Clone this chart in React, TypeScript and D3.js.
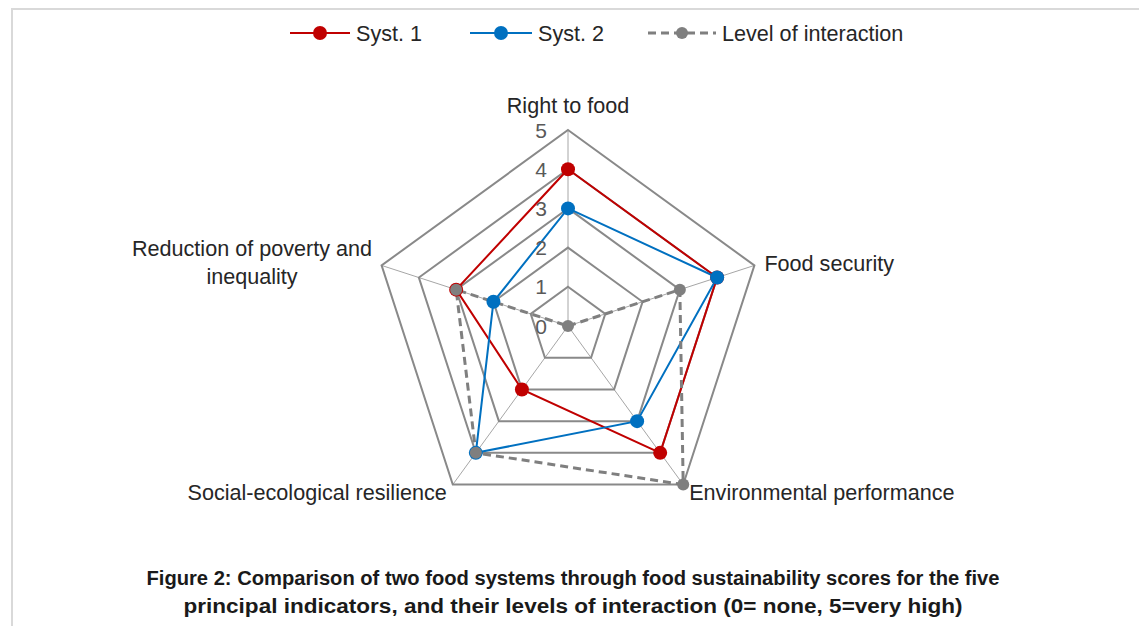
import React, { useRef, useEffect } from 'react';
import * as d3 from 'd3';

// axes of the radar, clockwise from the top
const indicators = [
  'Right to food',
  'Food security',
  'Environmental performance',
  'Social-ecological resilience',
  'Reduction of poverty and inequality',
];
const syst1 = [4, 4, 4, 2, 3];
const syst2 = [3, 4, 3, 4, 2];
const interaction = [0, 3, 5, 4, 3];
const levels = [0, 1, 2, 3, 4, 5];

const titleLines = [
  'Figure 2: Comparison of two food systems through food sustainability scores for the five',
  'principal indicators, and their levels of interaction (0= none, 5=very high)',
];

const W = 1139;
const H = 626;
const FONT = '"Liberation Sans", Arial, sans-serif';
const FS = 21.6;

export default function App() {
  const svgRef = useRef<SVGSVGElement>(null);

  useEffect(() => {
    if (!svgRef.current) return;
    const svg = d3.select(svgRef.current);
    svg.selectAll('*').remove();

    const cx = 568, cy = 326;
    const r = d3.scaleLinear().domain([0, 5]).range([0, 196]);
    const angle = (i: number) => (i * 2 * Math.PI) / indicators.length;
    const px = (i: number, v: number) => cx + r(v) * Math.sin(angle(i));
    const py = (i: number, v: number) => cy - r(v) * Math.cos(angle(i));

    // frame
    svg.append('rect')
      .attr('x', 12).attr('y', 9)
      .attr('width', W).attr('height', H)
      .attr('fill', '#fff')
      .attr('stroke', '#d9d9d9')
      .attr('stroke-width', 2);

    const g = svg.append('g').attr('transform', `translate(${cx},${cy})`);

    const radial = d3.lineRadial<number>()
      .angle((_, i) => angle(i))
      .radius(d => r(d))
      .curve(d3.curveLinearClosed);

    //spokes
    indicators.forEach((_, i) => {
      g.append('line')
        .attr('x1', 0).attr('y1', 0)
        .attr('x2', px(i, 5) - cx).attr('y2', py(i, 5) - cy)
        .attr('stroke', '#a6a6a6')
        .attr('stroke-width', 1);
    });

    //grid polygons
    levels.slice(1).forEach(l => {
      g.append('path')
        .attr('d', radial(indicators.map(() => l)))
        .attr('fill', 'none')
        .attr('stroke', '#898989')
        .attr('stroke-width', 2);
    });

    //tick labels
    levels.forEach(l => {
      svg.append('text')
        .attr('x', cx - 21)
        .attr('y', cy - r(l))
        .attr('dy', '0.36em')
        .attr('text-anchor', 'end')
        .attr('font-family', FONT)
        .attr('font-size', 21)
        .attr('fill', '#595959')
        .text(l);
    });

    //series
    const series = [
      { name: 'Syst. 1', values: syst1, color: '#c00000', dash: null as string | null, width: 2 },
      { name: 'Syst. 2', values: syst2, color: '#0070c0', dash: null as string | null, width: 2 },
      { name: 'Level of interaction', values: interaction, color: '#7f7f7f', dash: '8,5', width: 3 },
    ];

    series.forEach(s => {
      g.append('path')
        .attr('d', radial(s.values))
        .attr('fill', 'none')
        .attr('stroke', s.color)
        .attr('stroke-width', s.width)
        .attr('stroke-dasharray', s.dash);
      s.values.forEach((v, i) => {
        svg.append('circle')
          .attr('cx', px(i, v)).attr('cy', py(i, v))
          .attr('r', s.dash ? 6 : 7)
          .attr('fill', s.color);
      });
    });

    //category labels
    const labelStyle = (t: d3.Selection<SVGTextElement, unknown, null, undefined>) =>
      t.attr('font-family', FONT).attr('font-size', FS).attr('fill', '#262626');

    svg.append('text').call(labelStyle)
      .attr('x', cx).attr('y', 113).attr('text-anchor', 'middle').text(indicators[0]);
    svg.append('text').call(labelStyle)
      .attr('x', px(1, 5) + 10).attr('y', py(1, 5) - 2).attr('dy', '0.36em').text(indicators[1]);
    svg.append('text').call(labelStyle)
      .attr('x', px(2, 5) + 6).attr('y', py(2, 5) + 8).attr('dy', '0.36em').text(indicators[2]);
    svg.append('text').call(labelStyle)
      .attr('x', px(3, 5) - 6).attr('y', py(3, 5) + 8).attr('dy', '0.36em')
      .attr('text-anchor', 'end').text(indicators[3]);
    const red = svg.append('text').call(labelStyle).attr('text-anchor', 'middle');
    red.append('tspan').attr('x', 252).attr('y', 256).text('Reduction of poverty and');
    red.append('tspan').attr('x', 252).attr('y', 284).text('inequality');

    //legend
    const legendItems = [
      { s: series[0], x0: 290, x1: 350 },
      { s: series[1], x0: 470, x1: 532 },
      { s: series[2], x0: 648, x1: 716 },
    ];
    legendItems.forEach(({ s, x0, x1 }) => {
      svg.append('line')
        .attr('x1', x0).attr('x2', x1)
        .attr('y1', 33).attr('y2', 33)
        .attr('stroke', s.color)
        .attr('stroke-width', s.width)
        .attr('stroke-dasharray', s.dash);
      svg.append('circle')
        .attr('cx', (x0 + x1) / 2).attr('cy', 33)
        .attr('r', s.dash ? 6 : 7)
        .attr('fill', s.color);
      svg.append('text')
        .attr('x', x1 + 6).attr('y', 33).attr('dy', '0.36em')
        .attr('font-family', FONT).attr('font-size', FS).attr('fill', '#262626')
        .text(s.name);
    });

    //title
    const widths = [853, 779];
    titleLines.forEach((t, i) => {
      svg.append('text')
        .attr('x', 573).attr('y', 585 + i * 28)
        .attr('text-anchor', 'middle')
        .attr('font-family', FONT).attr('font-size', 20).attr('font-weight', 'bold')
        .attr('fill', '#1a1a1a')
        .attr('textLength', widths[i])
        .attr('lengthAdjust', 'spacingAndGlyphs')
        .text(t);
    });
  }, []);

  return (
    <div style={{ position: 'fixed', left: 0, top: 0, width: W, height: H, background: '#fff' }}>
      <svg ref={svgRef} width={W} height={H} />
    </div>
  );
}
